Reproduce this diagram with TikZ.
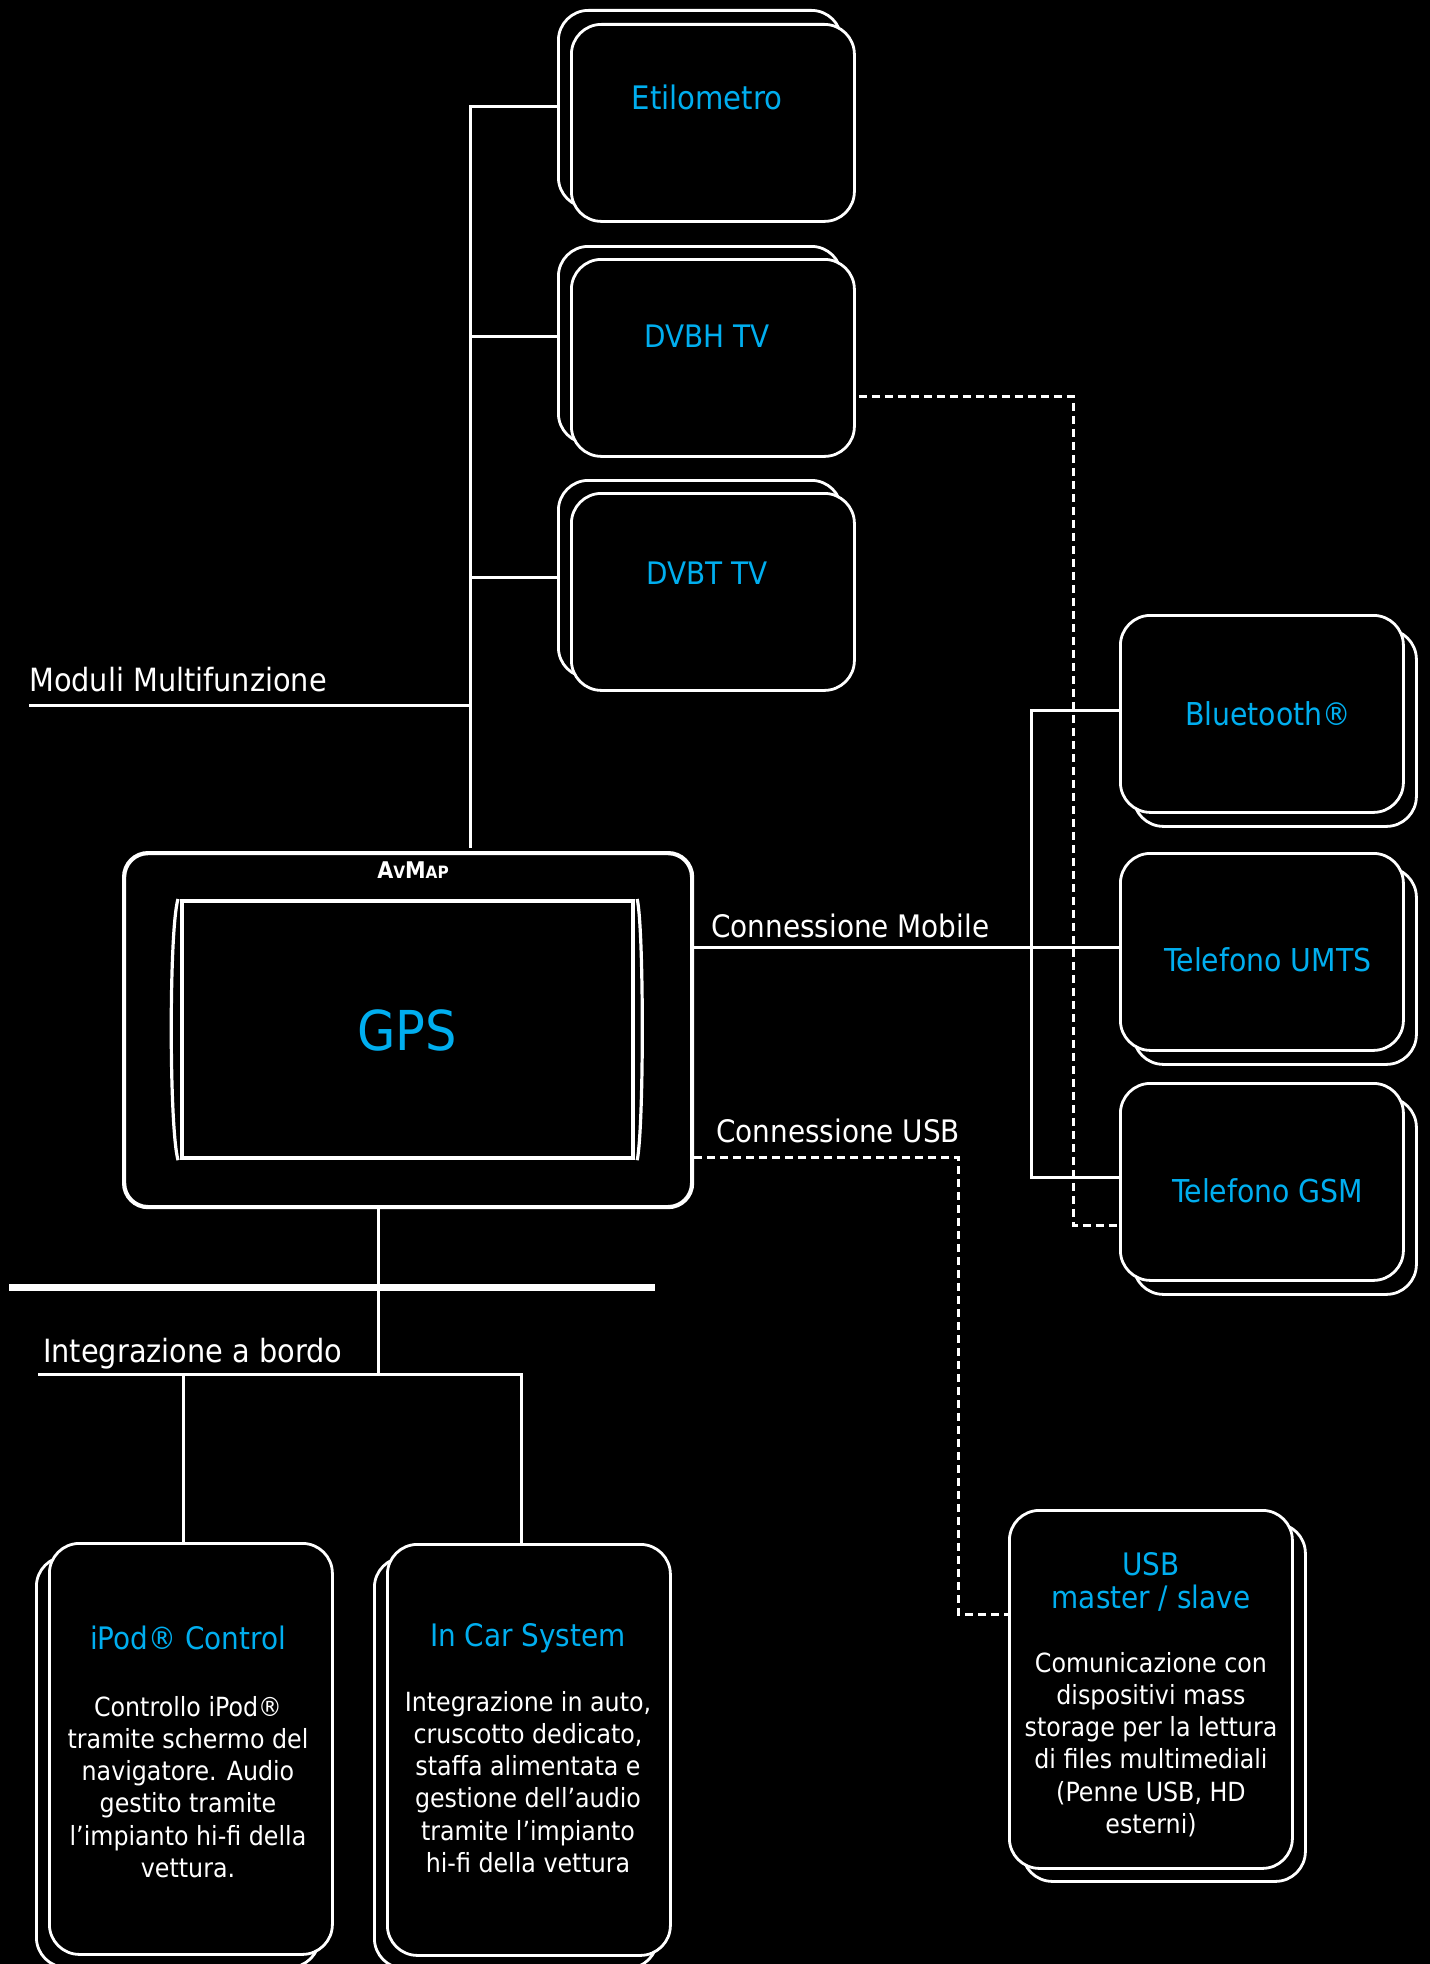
\documentclass[tikz,border=0pt]{standalone}
\usepackage{fontspec}
\setmainfont{DejaVu Sans Condensed}
\definecolor{cy}{HTML}{00AEEF}
\tikzset{
  x=1pt,y=-1pt,
  wline/.style={draw=white,line width=3pt},
  dline/.style={draw=white,line width=3pt,dash pattern=on 8pt off 5pt},
  card/.style={draw=white,fill=black,line width=2.8pt,rounded corners=30pt,minimum width=283pt,anchor=north west,inner sep=0pt},
  ttl/.style={text=cy,anchor=base,font=\fontsize{31.5}{33}\selectfont,inner sep=0pt},
  lbl/.style={text=white,anchor=base west,font=\fontsize{31}{33}\selectfont,inner sep=0pt},
  bodytxt/.style={text=white,anchor=north,align=center,font=\fontsize{26.4}{32.2}\selectfont,inner sep=0pt},
}
\begin{document}
\begin{tikzpicture}
\useasboundingbox (0,0) rectangle (1429,1964);
\fill[black] (-10,-10) rectangle (1439,1974);
% top cards
\node[card,minimum height=197pt] (etiB) at (557,9) {};
\node[card,minimum height=197pt] (eti) at (570,23) {};
\node[card,minimum height=197pt] (dvbhB) at (557,245) {};
\node[card,minimum height=197pt] (dvbh) at (570,258) {};
\node[card,minimum height=197pt] (dvbtB) at (557,479) {};
\node[card,minimum height=197pt] (dvbt) at (570,492) {};
% right cards
\node[card,minimum height=197pt] (btB) at (1132,628) {};
\node[card,minimum height=197pt] (bt) at (1119,614) {};
\node[card,minimum height=197pt] (umB) at (1132,866) {};
\node[card,minimum height=197pt] (um) at (1119,852) {};
\node[card,minimum height=197pt] (gsB) at (1132,1096) {};
\node[card,minimum height=197pt] (gs) at (1119,1082) {};
\node[card,minimum height=358pt] (usB) at (1021,1522) {};
\node[card,minimum height=358pt] (us) at (1008,1509) {};
% bottom cards
\node[card,minimum height=411pt] (ipB) at (35,1555) {};
\node[card,minimum height=411pt] (ip) at (48,1542) {};
\node[card,minimum height=411pt] (icB) at (373,1556) {};
\node[card,minimum height=411pt] (ic) at (386,1543) {};
% GPS
\node[draw=white,line width=4.2pt,rounded corners=24pt,minimum width=568pt,minimum height=354pt,anchor=north west,inner sep=0pt] (gps) at (122,851) {};
\node[draw=white,line width=4.2pt,minimum width=451pt,minimum height=257pt,anchor=north west,inner sep=0pt] (scr) at (180,899) {};
\coordinate (s1) at ([xshift=-2pt]scr.north west);
\coordinate (s2) at ([xshift=-2pt]scr.south west);
\coordinate (s3) at ([xshift=2pt]scr.north east);
\coordinate (s4) at ([xshift=2pt]scr.south east);
\draw[draw=white,line width=3.2pt] (s1) .. controls (169,930) and (169,1126) .. (s2);
\draw[draw=white,line width=3.2pt] (s3) .. controls (644,930) and (644,1126) .. (s4);
% trunk
\coordinate (tk) at (470,848);
\coordinate (t1) at (470,107);
\coordinate (t2) at (470,336);
\coordinate (t3) at (470,577);
\coordinate (t4) at (470,705);
\coordinate (m0) at (29,705);
\draw[wline] (tk) -- (t1) -- (t1 -| etiB.west);
\draw[wline] (t2) -- (t2 -| dvbhB.west);
\draw[wline] (t3) -- (t3 -| dvbtB.west);
\draw[wline] (m0) -- (t4);
% mobile
\coordinate (mb) at (1031,947);
\coordinate (mb1) at (1031,710);
\coordinate (mb3) at (1031,1177);
\draw[wline] (gps.east |- mb) -- (mb -| um.west);
\draw[wline] (mb1 -| bt.west) -- (mb1) -- (mb3) -- (mb3 -| gs.west);
% dashed DVBH
\coordinate (d1) at (1073,396);
\coordinate (d2) at (1073,1225);
\draw[dline] (dvbh.east |- d1) ++(3,0) -- (d1) -- (d2) -- (d2 -| gs.west);
% dashed USB
\coordinate (u1) at (958,1157);
\coordinate (u2) at (958,1614);
\draw[dline] (gps.east |- u1) -- (u1) -- (u2) -- (u2 -| us.west);
% bottom
\coordinate (b1) at (378,1374);
\coordinate (b0) at (38,1374);
\coordinate (b2) at (521,1374);
\coordinate (b3) at (183,1374);
\coordinate (bl) at (9,1287);
\coordinate (br) at (655,1287);
\draw[wline] (b1 |- gps.south) -- (b1);
\draw[wline] (b0) -- (b2) -- (b2 |- ic.north);
\draw[wline] (b3) -- (b3 |- ip.north);
\draw[draw=white,line width=7pt] (bl) -- (br);
% texts
\node[ttl,font=\fontsize{32.4}{33}\selectfont] (te) at (707,110) {Etilometro};
\node[ttl,font=\fontsize{31}{33}\selectfont] (td) at (707,347) {DVBH TV};
\node[ttl,font=\fontsize{31}{33}\selectfont] (tt) at (707,584) {DVBT TV};
\node[ttl] (tb) at (1268,725) {Bluetooth®};
\node[ttl] (tu) at (1268,971) {Telefono UMTS};
\node[ttl] (tg) at (1268,1202) {Telefono GSM};
\node[ttl,font=\fontsize{31}{33}\selectfont] (ti) at (188,1649) {iPod® Control};
\node[ttl,font=\fontsize{31}{33}\selectfont] (tc) at (528,1646) {In Car System};
\node[ttl,font=\fontsize{31}{33}\selectfont] (tus1) at (1151,1575) {USB};
\node[ttl,font=\fontsize{31}{33}\selectfont] (tus2) at (1151,1608) {master / slave};
\node[lbl,font=\fontsize{32}{33}\selectfont] (l1) at (29,691) {Moduli Multifunzione};
\node[lbl] (l2) at (711,937) {Connessione Mobile};
\node[lbl] (l3) at (716,1142) {Connessione USB};
\node[lbl,font=\fontsize{32}{33}\selectfont] (l4) at (43,1362) {Integrazione a bordo};
\node[ttl,font=\fontsize{55}{60}\selectfont] (tgps) at (407,1050) {GPS};
\node[text=white,anchor=base,inner sep=0pt,font=\bfseries] (tav) at (413,878) {\fontsize{23}{24}\selectfont A\fontsize{17}{24}\selectfont V\fontsize{23}{24}\selectfont M\fontsize{17}{24}\selectfont AP};
\node[bodytxt] (bi) at (188,1696) {Controllo iPod®\\tramite schermo del\\navigatore. Audio\\gestito tramite\\l’impianto hi-fi della\\vettura.};
\node[bodytxt] (bc) at (528,1691) {Integrazione in auto,\\cruscotto dedicato,\\staffa alimentata e\\gestione dell’audio\\tramite l’impianto\\hi-fi della vettura};
\node[bodytxt] (bu) at (1151,1652) {Comunicazione con\\dispositivi mass\\storage per la lettura\\di files multimediali\\(Penne USB, HD\\esterni)};
\end{tikzpicture}
\end{document}
